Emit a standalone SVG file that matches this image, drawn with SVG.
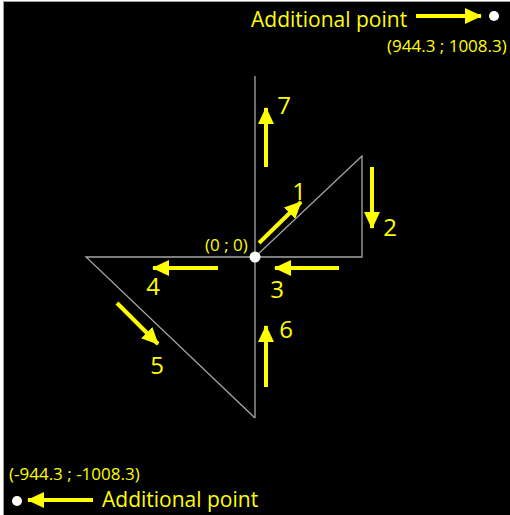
<svg xmlns="http://www.w3.org/2000/svg" width="510" height="515" viewBox="0 0 510 515">
<defs>
<style>
.geo{stroke:#a6a6a6;stroke-width:1.3;fill:none}
.arr{stroke:#ffff00;stroke-width:4;fill:none;marker-end:url(#ah)}
.lbl{font-family:"Open Sans","Liberation Sans",sans-serif;fill:#ffff00}
.num{font-size:24px;text-anchor:middle}
.big{font-size:21px}
.small{font-size:17px}
</style>
<marker id="ah" markerUnits="userSpaceOnUse" markerWidth="18" markerHeight="16" viewBox="0 0 18 16" refX="16" refY="8" orient="auto">
<path d="M0,0 L17,8 L0,16 Z" fill="#ffff00"/>
</marker>
</defs>
<rect x="0" y="0" width="510" height="515" fill="#ffffff"/>
<rect x="3" y="1" width="507" height="514" fill="#9a9a9a"/>
<rect x="4" y="2" width="506" height="513" fill="#000000"/>

<g id="geometry">
<line class="geo" x1="255" y1="76" x2="255" y2="418"/>
<polyline class="geo" points="255,257 362,156 362,257 86,257 255,418"/>
</g>

<g id="connectors">
<line class="arr" x1="259" y1="243" x2="301" y2="202"/>
<line class="arr" x1="372" y1="167" x2="372" y2="228"/>
<line class="arr" x1="339" y1="268" x2="275" y2="268"/>
<line class="arr" x1="218" y1="268" x2="153" y2="268"/>
<line class="arr" x1="117" y1="303" x2="158" y2="344"/>
<line class="arr" x1="266" y1="387" x2="266" y2="326"/>
<line class="arr" x1="266" y1="167" x2="266" y2="108"/>
<line class="arr" x1="416" y1="16" x2="481" y2="16"/>
<line class="arr" x1="93" y1="500" x2="28" y2="500"/>
</g>

<g id="labels">
<text class="lbl num" x="299" y="200">1</text>
<text class="lbl num" x="390" y="236">2</text>
<text class="lbl num" x="277" y="298">3</text>
<text class="lbl num" x="153" y="295">4</text>
<text class="lbl num" x="157" y="374">5</text>
<text class="lbl num" x="286" y="338">6</text>
<text class="lbl num" x="284" y="114">7</text>
<text class="lbl small" x="205" y="251">(0 ; 0)</text>
</g>

<g id="origin">
<circle cx="255" cy="257" r="5.5" fill="#ffffff"/>
</g>

<g id="point-top">
<circle cx="494" cy="16" r="5" fill="#ffffff"/>
<text class="lbl big" x="251" y="27">Additional point</text>
<text class="lbl small" x="387" y="52">(944.3 ; 1008.3)</text>
</g>

<g id="point-bottom">
<circle cx="17" cy="501" r="5" fill="#ffffff"/>
<text class="lbl big" x="102" y="507">Additional point</text>
<text class="lbl small" x="9" y="480">(-944.3 ; -1008.3)</text>
</g>
</svg>
